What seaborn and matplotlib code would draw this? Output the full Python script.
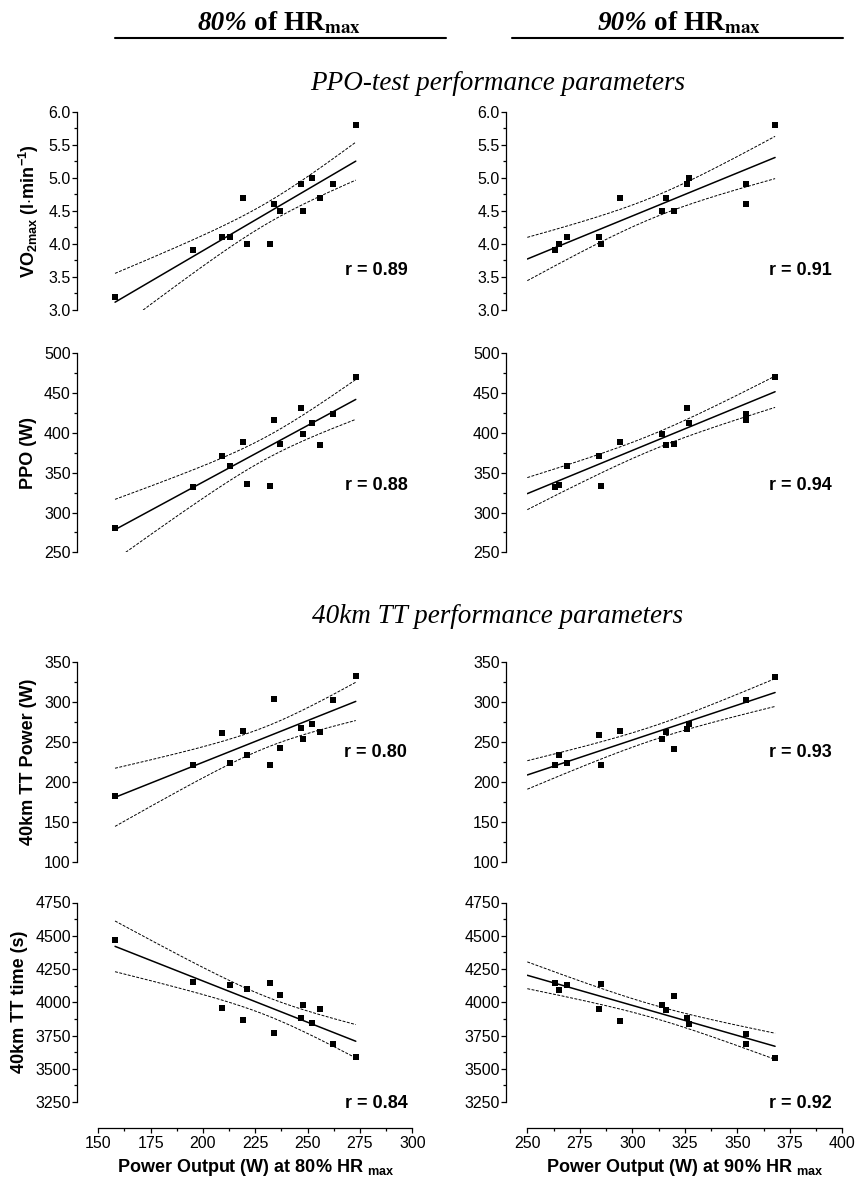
# figura de correlaciones: potencia a 80% y 90% de HRmax vs parametros de rendimiento

import numpy as np
import matplotlib
matplotlib.use("Agg")
from matplotlib import pyplot as plt
from matplotlib.ticker import MultipleLocator, FormatStrFormatter
import seaborn as sns

sns.set_style("ticks", {"axes.edgecolor": "black", "xtick.color": "black",
                        "ytick.color": "black", "text.color": "black",
                        "axes.labelcolor": "black"})
plt.rcParams["font.family"] = ["Liberation Sans", "DejaVu Sans"]
plt.rcParams["mathtext.fontset"] = "custom"
plt.rcParams["mathtext.rm"] = "Liberation Sans"
plt.rcParams["mathtext.bf"] = "Liberation Sans:bold"
plt.rcParams["mathtext.it"] = "Liberation Sans:italic"

# -------------- datos

# potencia a 80% HRmax (W)
x80 = [158, 195, 209, 213, 219, 221, 232, 234, 237, 247, 248, 252, 256, 262, 273]
vo2_80 = [3.2, 3.9, 4.1, 4.1, 4.7, 4.0, 4.0, 4.6, 4.5, 4.9, 4.5, 5.0, 4.7, 4.9, 5.8]
ppo_80 = [280, 332, 371, 359, 388, 336, 333, 416, 386, 431, 398, 413, 385, 424, 470]
pot_80 = [182, 221, 261, 224, 264, 233, 221, 304, 242, 267, 254, 273, 262, 303, 332]
tiempo_80 = [4470, 4153, 3955, 4128, 3865, 4098, 4145, 3767, 4053, 3882, 3983, 3847, 3947, 3687, 3586]

# potencia a 90% HRmax (W)
x90 = [263, 265, 269, 284, 285, 294, 314, 316, 320, 326, 327, 354, 354, 368]
vo2_90 = [3.9, 4.0, 4.1, 4.1, 4.0, 4.7, 4.5, 4.7, 4.5, 4.9, 5.0, 4.9, 4.6, 5.8]
ppo_90 = [332, 335, 359, 371, 333, 388, 399, 385, 386, 431, 413, 424, 416, 470]
pot_90 = [221, 233, 224, 259, 221, 264, 253, 262, 241, 266, 273, 303, 303, 331]
tiempo_90 = [4148, 4095, 4128, 3952, 4138, 3862, 3978, 3942, 4050, 3880, 3840, 3764, 3684, 3581]

r_80 = ["r = 0.89", "r = 0.88", "r = 0.80", "r = 0.84"]
r_90 = ["r = 0.91", "r = 0.94", "r = 0.93", "r = 0.92"]

etiquetas_y = [r"VO$_{\mathbf{2max}}$ (l$\mathbf{\cdot}$min$^{\mathbf{-1}}$)", "PPO (W)",
               "40km TT Power (W)", "40km TT time (s)"]
etiquetas_x = [r"Power Output (W) at 80% HR $_{\mathbf{max}}$",
               r"Power Output (W) at 90% HR $_{\mathbf{max}}$"]
encabezados = ["80%", "90%"]
secciones = ["PPO-test performance parameters", "40km TT performance parameters"]

columnas = [
    {"x": x80, "ys": [vo2_80, ppo_80, pot_80, tiempo_80], "r": r_80, "xlim": (150, 300), "extender": False},
    {"x": x90, "ys": [vo2_90, ppo_90, pot_90, tiempo_90], "r": r_90, "xlim": (250, 400), "extender": True},
]
filas_ylim = [(3, 6), (250, 500), (100, 350), (3250, 4750)]
filas_paso = [0.5, 50, 50, 250]
filas_fmt = ["%.1f", "%d", "%d", "%d"]

# -------------- posiciones (pixeles)

W, H = 857, 1181
col_px = [(98.3, 412.3), (527.3, 842.3)]
fila_px = [(111.5, 310), (353.3, 552.3), (662, 861.7), (902.5, 1102)]
r_xfrac = [0.984, 0.967]
r_yfrac = [0.20, 0.335, 0.545, -0.01]

T95 = {12: 2.179, 13: 2.160}


def recta_y_banda(x, y, malla):
    # regresion lineal con banda de confianza del 95%
    n = len(x)
    b, a = np.polyfit(x, y, 1)
    ajuste = a + b * malla
    res = y - (a + b * x)
    s = np.sqrt(np.sum(res ** 2) / (n - 2))
    se = s * np.sqrt(1 / n + (malla - x.mean()) ** 2 / np.sum((x - x.mean()) ** 2))
    t = T95[n - 2]
    return ajuste, ajuste - t * se, ajuste + t * se


fig = plt.figure(figsize=(W / 100, H / 100), dpi=100)

for c, col in enumerate(columnas):
    xs = np.array(col["x"], dtype=float)
    x0, x1 = col_px[c]
    for f in range(4):
        ys = np.array(col["ys"][f], dtype=float)
        y0, y1 = fila_px[f]
        ax = fig.add_axes([x0 / W, 1 - y1 / H, (x1 - x0) / W, (y1 - y0) / H])

        sns.scatterplot(x=xs, y=ys, marker="s", s=24, color="black", linewidth=0, ax=ax, zorder=3)
        ax.set_xlim(col["xlim"])
        ax.set_ylim(filas_ylim[f])

        inicio = col["xlim"][0] if col["extender"] else xs.min()
        malla = np.linspace(inicio, xs.max(), 200)
        ajuste, inf, sup = recta_y_banda(xs, ys, malla)
        ax.plot(malla, ajuste, color="black", lw=1.1)
        ax.plot(malla, inf, color="black", lw=0.7, ls=(0, (3, 1.5)))
        ax.plot(malla, sup, color="black", lw=0.7, ls=(0, (3, 1.5)))

        ax.yaxis.set_major_locator(MultipleLocator(filas_paso[f]))
        ax.yaxis.set_minor_locator(MultipleLocator(filas_paso[f] / 2))
        ax.yaxis.set_major_formatter(FormatStrFormatter(filas_fmt[f]))
        ax.xaxis.set_major_locator(MultipleLocator(25))
        ax.xaxis.set_minor_locator(MultipleLocator(12.5))

        ultima = f == 3
        sns.despine(ax=ax, bottom=not ultima, offset={"left": 15, "bottom": 18.7})
        for lado in ["left", "bottom"]:
            ax.spines[lado].set_linewidth(0.9)
        ax.tick_params(which="major", length=3.6, width=0.9, labelsize=11.5, pad=1.2)
        ax.tick_params(which="minor", length=2.2, width=0.9)
        ax.tick_params(axis="x", pad=2.5)
        if not ultima:
            ax.tick_params(axis="x", which="both", bottom=False, labelbottom=False)
        else:
            ax.set_xlabel(etiquetas_x[c], fontsize=13, fontweight="bold", labelpad=4)

        if c == 0:
            ax.set_ylabel(etiquetas_y[f], fontsize=13, fontweight="bold", labelpad=5)

        ax.text(r_xfrac[c], r_yfrac[f], col["r"][f], transform=ax.transAxes,
                ha="right", va="center", fontsize=13, fontweight="bold")

# encabezados de columna
corte_px = [247, 647]
linea_px = [(115, 446), (512, 843)]
for c in range(2):
    fig.text(corte_px[c] / W, 1 - 30 / H, encabezados[c], ha="right", va="baseline",
             family="Liberation Serif", style="italic", weight="bold", size=19.5)
    fig.text(corte_px[c] / W, 1 - 30 / H, r" of HR$_{\mathbf{max}}$", ha="left", va="baseline",
             family="Liberation Serif", weight="bold", size=19.5, math_fontfamily="stix")
    fig.add_artist(plt.Line2D([linea_px[c][0] / W, linea_px[c][1] / W], [1 - 38 / H, 1 - 38 / H],
                              color="black", lw=1.5))

# titulos de seccion
for texto, base in zip(secciones, [90, 623]):
    fig.text(498 / W, 1 - base / H, texto, ha="center", va="baseline",
             family="Liberation Serif", style="italic", size=19.5)

fig.savefig("out.png", dpi=100)
